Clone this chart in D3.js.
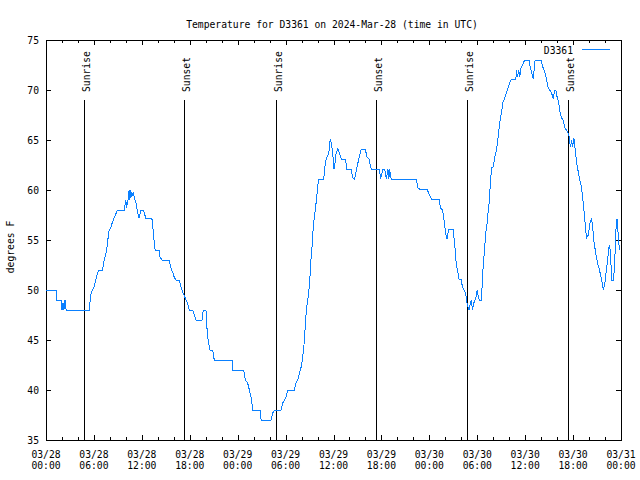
<!DOCTYPE html>
<html><head><meta charset="utf-8">
<script src="https://cdn.jsdelivr.net/npm/d3@7"></script>
<style>body{margin:0;background:#fff}svg{display:block}</style>
</head><body>
<script>
const chartTitle = "Temperature for D3361 on 2024-Mar-28 (time in UTC)";
const seriesName = "D3361";
const yTitle = "degrees F";
const startTime = "2024-03-28T00:00:00Z";
const spanHours = 72;
// minutes since start
const minutesFromStart = [
0,75,79,113,120,128,135,143,151,324,
336,348,361,374,386,399,424,437,449,461,
467,474,487,499,512,537,587,600,604,613,
625,630,637,645,655,662,675,687,700,713,
730,738,750,795,800,813,820,850,856,871,
926,938,951,963,976,1001,1014,1026,1038,1051,
1063,1076,1101,1127,1172,1176,1189,1202,1206,1214,
1221,1232,1252,1264,1398,1402,1485,1498,1515,1528,
1541,1553,1611,1616,1691,1703,1716,1766,1778,1791,
1804,1816,1866,1879,1891,1904,1917,1929,1942,1949,
1959,1974,1985,1992,2000,2009,2019,2030,2042,2047,
2087,2092,2105,2125,2135,2143,2155,2160,2167,2180,
2192,2205,2218,2250,2260,2293,2305,2318,2335,2350,
2368,2399,2411,2426,2444,2506,2514,2531,2544,2557,
2569,2576,2581,2594,2782,2794,2807,2862,2882,2895,
2952,2965,2978,2988,2995,3008,3013,3020,3028,3058,
3071,3083,3095,3103,3121,3128,3140,3153,3163,3171,
3178,3189,3196,3204,3214,3229,3239,3249,3259,3272,
3276,3284,3296,3304,3314,3321,3329,3334,3339,3347,
3359,3372,3385,3397,3409,3422,3434,3447,3460,3472,
3485,3497,3530,3535,3542,3552,3560,3565,3597,3630,
3635,3648,3660,3665,3675,3718,3725,3735,3748,3761,
3773,3785,3798,3810,3823,3831,3840,3851,3861,3873,
3886,3898,3911,3921,3931,3936,3941,3949,3956,3966,
3976,3986,3999,4011,4024,4036,4044,4056,4062,4074,
4087,4099,4107,4117,4129,4142,4154,4167,4179,4187,
4199,4207,4222,4232,4239,4247,4252,4264,4272,4282,
4290,4295,4302,4307,4312];
// temperature (degrees F)
const tempF = [
50,50,49,49,48,48.7,48,49,48,48,
49.5,50,50.3,51,51.7,52,52,53,53.5,54.5,
55.3,56,56.2,56.8,57.2,58,58,59,58.2,58.7,
60,59,60,59.3,59.8,59.3,58.8,57.8,57.2,58,
58,57.7,57.2,57.2,56.7,54.8,54,54,53.3,53,
53,52.2,51.8,51.3,51,51,50.3,49.8,49.5,49,
48.7,48,48,47,47,47.7,48,48,46.7,45.5,
44.7,44,44,43,43,42,42,41,40.7,40,
39.3,38,38,37,37,37.7,38,38,38.7,39,
39.3,40,40,40.7,41,41.7,42.3,43.3,45,46.8,
48.3,49.7,51.7,53.3,54.5,56.5,57.5,58.8,60.3,61.1,
61.1,62,63.1,63.7,65.1,64.7,63.7,62.2,62.2,63.7,
64.1,63.7,63.1,63.1,62.1,62.1,61.2,61.1,62.2,63.1,
64.1,64.1,63.3,63.1,62.1,62,61.1,62.1,62.1,61.1,
62.1,61.1,62.1,61.1,61.1,60.2,60.1,60.1,59.5,59.1,
59.1,58.2,58,57.3,56.5,55.2,55.1,55.7,56.1,56.1,
54.5,52.5,51.7,51.1,51,50.3,50,49.7,48.7,48.3,
48,48.7,49,48,48.7,49.2,50,49.2,49,49,
50.3,52.3,54.3,55.7,56.7,57.7,58.7,59.8,60.7,62.2,
62.3,63.3,64,65.3,66.7,67.8,68.8,69.2,69.8,70.2,
70.8,71.1,71.1,72,71.3,72,71.3,72.1,73,73,
72.5,71.8,71.1,71.7,73,73,72.7,72.2,71.8,71,
70.2,70,69.7,69.2,70,70,69.3,68.8,67.8,67.2,
67,66.2,66,65.7,65.3,64.7,64.3,65,64.3,65.2,
64,62.8,61.8,61,60.2,58.7,57.7,55.8,55.2,55.5,
56.7,57.1,56.3,54.8,53.8,52.8,52.2,51.5,50.7,50,
50.7,51.7,53.3,54.5,54,52,51,51,52.5,56,
57.1,56.2,55.2,54,54.5];
const sunLabels = ["Sunrise","Sunset","Sunrise","Sunset","Sunrise","Sunset"];
const sunTimes = ["2024-03-28T04:45:00Z","2024-03-28T17:17:00Z","2024-03-29T04:48:00Z",
                  "2024-03-29T17:19:00Z","2024-03-30T04:43:00Z","2024-03-30T17:22:00Z"];
const yTicks = [35,40,45,50,55,60,65,70,75];
const xMajorHours = [0,6,12,18,24,30,36,42,48,54,60,66,72];
const xMinorHours = d3.range(0, 73, 2);

const W = 640, H = 480;
const X0 = 46, X1 = 621, Y0 = 40, Y1 = 440;
const t0 = Date.parse(startTime);
const hr = h => new Date(t0 + h * 3600e3);
const x = d3.scaleUtc().domain([hr(0), hr(spanHours)]).range([X0, X1]);
const y = d3.scaleLinear().domain([35, 75]).range([Y1, Y0]);

const data = minutesFromStart.map((m, i) => ({t: new Date(t0 + m * 60e3), v: tempF[i]}));

const svg = d3.select("body").append("svg")
  .attr("width", W).attr("height", H)
  .style("font-family", "'DejaVu Sans Mono', monospace")
  .style("font-size", "9.7px");

// title
svg.append("text").attr("x", 332).attr("y", 28).attr("text-anchor", "middle")
  .attr("fill", "#000").text(chartTitle);

// axes
function styleAxis(g) {
  g.select(".domain").remove();
  g.selectAll("line").attr("stroke", "#000").attr("shape-rendering", "crispEdges");
  g.selectAll("text").attr("fill", "#000").style("font-family", "'DejaVu Sans Mono', monospace").style("font-size", "9.7px");
}
svg.append("g").attr("transform", `translate(0,${Y1})`)
  .call(d3.axisBottom(x).tickValues(xMinorHours.map(hr)).tickSize(-3).tickSizeOuter(0).tickFormat(""))
  .call(styleAxis);
svg.append("g").attr("transform", `translate(0,${Y1})`)
  .call(d3.axisBottom(x).tickValues(xMajorHours.map(hr)).tickSize(-5).tickSizeOuter(0).tickFormat(""))
  .call(styleAxis);
svg.append("g").attr("transform", `translate(0,${Y0})`)
  .call(d3.axisTop(x).tickValues(xMinorHours.map(hr)).tickSize(-3).tickSizeOuter(0).tickFormat(""))
  .call(styleAxis);
svg.append("g").attr("transform", `translate(0,${Y0})`)
  .call(d3.axisTop(x).tickValues(xMajorHours.map(hr)).tickSize(-5).tickSizeOuter(0).tickFormat(""))
  .call(styleAxis);
svg.append("g").attr("transform", `translate(${X0},0)`)
  .call(d3.axisLeft(y).tickValues(yTicks).tickSize(-5).tickSizeOuter(0).tickPadding(7).tickFormat(d3.format("d")))
  .call(styleAxis)
  .call(g => g.selectAll("text").attr("dy", "0.36em"));
svg.append("g").attr("transform", `translate(${X1},0)`)
  .call(d3.axisRight(y).tickValues(yTicks).tickSize(-5).tickSizeOuter(0).tickFormat(""))
  .call(styleAxis);

// x tick labels (two lines)
const fmtDate = d3.utcFormat("%m/%d"), fmtTime = d3.utcFormat("%H:%M");
const xl = svg.append("g").selectAll("text").data(xMajorHours.map(hr)).join("text")
  .attr("x", d => x(d)).attr("y", 458).attr("text-anchor", "middle").attr("fill", "#000");
xl.append("tspan").attr("x", d => x(d)).attr("y", 458).text(d => fmtDate(d));
xl.append("tspan").attr("x", d => x(d)).attr("y", 469).text(d => fmtTime(d));

// y title
svg.append("text").attr("transform", `translate(13.5,247) rotate(-90)`)
  .attr("text-anchor", "middle").attr("fill", "#000").text(yTitle);

// border
svg.append("rect").attr("x", X0 + 0.5).attr("y", Y0 + 0.5)
  .attr("width", X1 - X0).attr("height", Y1 - Y0)
  .attr("fill", "none").attr("stroke", "#000").attr("shape-rendering", "crispEdges");

// sunrise / sunset lines
const sun = sunTimes.map((s, i) => ({t: new Date(s), label: sunLabels[i]}));
svg.append("g").selectAll("line").data(sun).join("line")
  .attr("x1", d => Math.round(x(d.t)) + 0.5).attr("x2", d => Math.round(x(d.t)) + 0.5)
  .attr("y1", 100).attr("y2", Y1)
  .attr("stroke", "#000").attr("shape-rendering", "crispEdges");
svg.append("g").selectAll("text").data(sun).join("text")
  .attr("transform", d => `translate(${Math.round(x(d.t)) + 5.5},92) rotate(-90)`)
  .attr("text-anchor", "start").attr("fill", "#000").text(d => d.label);

// data line
const line = d3.line().x(d => x(d.t)).y(d => y(d.v));
svg.append("path").datum(data).attr("d", line)
  .attr("fill", "none").attr("stroke", "#0a80ff").attr("stroke-width", 1)
  .attr("shape-rendering", "crispEdges");

// legend
svg.append("text").attr("x", 573).attr("y", 54).attr("text-anchor", "end").attr("fill", "#000").text(seriesName);
svg.append("line").attr("x1", 582).attr("x2", 610).attr("y1", 49.5).attr("y2", 49.5)
  .attr("stroke", "#0a80ff").attr("shape-rendering", "crispEdges");
</script>
</body></html>
